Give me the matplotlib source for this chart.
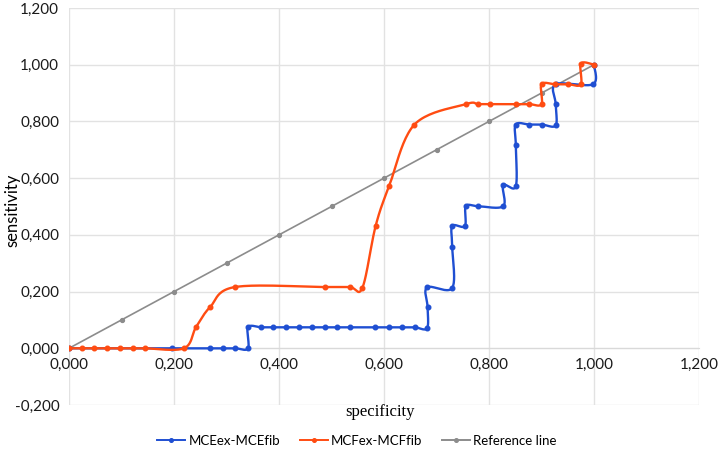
import numpy as np
import matplotlib
matplotlib.use("Agg")
import matplotlib.pyplot as plt
from matplotlib.lines import Line2D
from matplotlib.ticker import FuncFormatter, MultipleLocator

# ---- data ----
blue_x = [0.000, 0.196, 0.269, 0.293, 0.317, 0.341, 0.341, 0.366, 0.389, 0.413, 0.438,
          0.463, 0.488, 0.510, 0.535, 0.583, 0.610, 0.634, 0.659, 0.682, 0.683, 0.682,
          0.730, 0.730, 0.730, 0.754, 0.756, 0.779, 0.827, 0.827, 0.851, 0.851, 0.851,
          0.877, 0.901, 0.927, 0.927, 0.927, 0.998, 1.000]
blue_y = [0.000, 0.000, 0.000, 0.000, 0.000, 0.000, 0.074, 0.074, 0.074, 0.074, 0.074,
          0.074, 0.074, 0.074, 0.074, 0.074, 0.074, 0.074, 0.074, 0.071, 0.145, 0.215,
          0.213, 0.357, 0.431, 0.431, 0.501, 0.501, 0.501, 0.575, 0.571, 0.716, 0.789,
          0.789, 0.789, 0.786, 0.861, 0.931, 0.931, 1.000]

orange_x = [0.000, 0.024, 0.048, 0.072, 0.097, 0.121, 0.145, 0.219, 0.242, 0.269, 0.316,
            0.488, 0.535, 0.559, 0.584, 0.610, 0.658, 0.756, 0.779, 0.801, 0.851, 0.877,
            0.900, 0.900, 0.926, 0.951, 0.975, 0.975, 1.000]
orange_y = [0.000, 0.000, 0.000, 0.000, 0.000, 0.000, 0.000, 0.000, 0.075, 0.146, 0.216,
            0.216, 0.216, 0.214, 0.431, 0.573, 0.789, 0.861, 0.861, 0.861, 0.861, 0.861,
            0.861, 0.931, 0.931, 0.931, 0.931, 1.004, 1.000]

ref_x = [0.0, 0.1, 0.2, 0.3, 0.4, 0.5, 0.6, 0.7, 0.8, 0.9, 1.0]
ref_y = [0.0, 0.1, 0.2, 0.3, 0.4, 0.5, 0.6, 0.7, 0.8, 0.9, 1.0]

series_labels = ["MCEex-MCEfib", "MCFex-MCFfib", "Reference line"]
x_label = "specificity"
y_label = "sensitivity"

BLUE = "#1f4fd2"
ORANGE = "#ff4c12"
GREY = "#8c8c8c"
UI_FONT = "Lato"


def smooth(xs, ys, n=24):
    """Excel-like smoothed line: Catmull-Rom cubic Bezier through points."""
    P = np.column_stack([xs, ys]).astype(float)
    m = len(P)
    out = [P[0]]
    t = np.linspace(0, 1, n)[1:, None]
    for i in range(m - 1):
        p0 = P[i]
        p3 = P[i + 1]
        pm = P[i - 1] if i > 0 else P[i]
        pp = P[i + 2] if i + 2 < m else P[i + 1]
        c1 = p0 + (p3 - pm) / 6.0
        c2 = p3 - (pp - p0) / 6.0
        seg = ((1 - t) ** 3) * p0 + 3 * ((1 - t) ** 2) * t * c1 + 3 * (1 - t) * t ** 2 * c2 + t ** 3 * p3
        out.extend(seg)
    out = np.array(out)
    return out[:, 0], out[:, 1]


fig = plt.figure(figsize=(7.25, 4.61), dpi=100)
ax = fig.add_axes([69 / 725, 1 - 405 / 461, (699 - 69) / 725, (405 - 8) / 461])

ax.set_xlim(0, 1.2)
ax.set_ylim(-0.2, 1.2)
ax.xaxis.set_major_locator(MultipleLocator(0.2))
ax.yaxis.set_major_locator(MultipleLocator(0.2))
ax.grid(True, color="#e2e2e2", lw=1.0, zorder=0)
ax.set_axisbelow(True)

for s in ["top", "right", "left"]:
    ax.spines[s].set_visible(False)
ax.spines["bottom"].set_position(("data", 0))
ax.spines["bottom"].set_color("#d9d9d9")
ax.tick_params(length=0, labelsize=11, colors="#1a1a1a", pad=7)

fmt = FuncFormatter(lambda v, p: f"{v:.3f}".replace(".", ","))
ax.xaxis.set_major_formatter(fmt)
ax.yaxis.set_major_formatter(fmt)
for lab in ax.get_xticklabels() + ax.get_yticklabels():
    lab.set_family(UI_FONT)

# reference line
ax.plot(ref_x, ref_y, color=GREY, lw=1.2, marker="o", ms=2.8, zorder=3)

# blue
bx, by = smooth(blue_x, blue_y)
ax.plot(bx, by, color=BLUE, lw=1.7, zorder=4)
ax.plot(blue_x, blue_y, ls="none", marker="o", ms=3.3, color=BLUE, zorder=5)

# orange
ox, oy = smooth(orange_x, orange_y)
ax.plot(ox, oy, color=ORANGE, lw=1.7, zorder=6)
ax.plot(orange_x, orange_y, ls="none", marker="o", ms=3.3, color=ORANGE, zorder=7)

fig.text(380 / 725, 1 - 412 / 461, x_label, family="Liberation Serif",
         fontsize=12, ha="center", va="center")
fig.text(12 / 725, 1 - 210 / 461, y_label, family=UI_FONT,
         fontsize=12, ha="center", va="center", rotation=90)

handles = [Line2D([], [], color=c, lw=1.4, marker="o", ms=2.6)
           for c in (BLUE, ORANGE, GREY)]
leg = fig.legend(handles, series_labels, loc="center", bbox_to_anchor=(357 / 725, 1 - 441 / 461),
                 ncol=3, frameon=False, handlelength=2.1, columnspacing=1.5,
                 handletextpad=0.25, prop={"family": UI_FONT, "size": 9.5})

fig.savefig("out.png", dpi=100)
